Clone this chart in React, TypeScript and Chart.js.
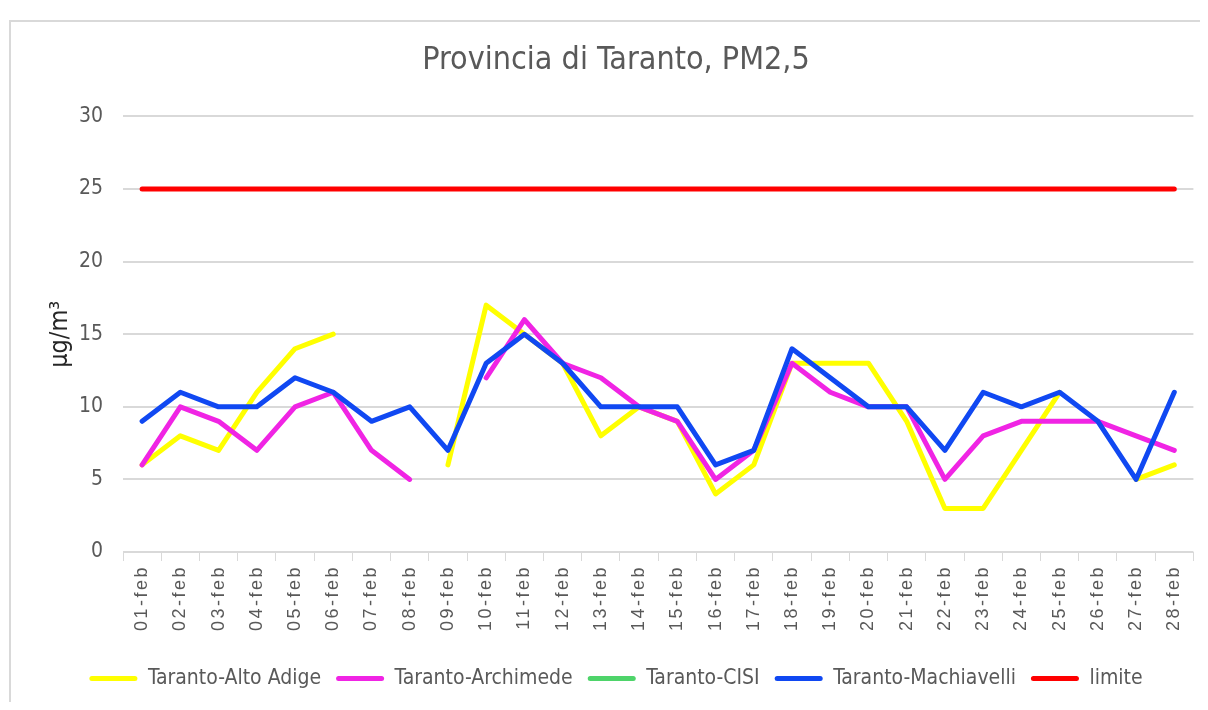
import React, { useEffect, useRef } from "react";
import { Chart, registerables } from "chart.js";

Chart.register(...registerables);

const categories = [
  "01-feb", "02-feb", "03-feb", "04-feb", "05-feb", "06-feb", "07-feb",
  "08-feb", "09-feb", "10-feb", "11-feb", "12-feb", "13-feb", "14-feb",
  "15-feb", "16-feb", "17-feb", "18-feb", "19-feb", "20-feb", "21-feb",
  "22-feb", "23-feb", "24-feb", "25-feb", "26-feb", "27-feb", "28-feb",
];

const altoAdige = [6, 8, 7, 11, 14, 15, null, null, 6, 17, 15, 13, 8, 10, 9, 4, 6, 13, 13, 13, 9, 3, 3, 7, 11, null, 5, 6];
const archimede = [6, 10, 9, 7, 10, 11, 7, 5, null, 12, 16, 13, 12, 10, 9, 5, 7, 13, 11, 10, 10, 5, 8, 9, 9, 9, 8, 7];
const cisi = [null, null, null, null, null, null, null, null, null, null, null, null, null, null,
  null, null, null, null, null, null, null, null, null, null, null, null, null, null];
const machiavelli = [9, 11, 10, 10, 12, 11, 9, 10, 7, 13, 15, 13, 10, 10, 10, 6, 7, 14, 12, 10, 10, 7, 11, 10, 11, 9, 5, 11];
const limite = [25, 25, 25, 25, 25, 25, 25, 25, 25, 25, 25, 25, 25, 25, 25, 25, 25, 25, 25, 25, 25, 25, 25, 25, 25, 25, 25, 25];

const seriesNames = ["Taranto-Alto Adige", "Taranto-Archimede", "Taranto-CISI", "Taranto-Machiavelli", "limite"];
const seriesColors = ["#FFFF00", "#F024E4", "#4ED46A", "#1048F2", "#FF0000"];

const titleText = "Provincia di Taranto, PM2,5";
const yTitle = "µg/m³";

const NARROW = "'Liberation Sans Narrow', 'DejaVu Sans Condensed', 'Liberation Sans', sans-serif";

const letterSpacingPlugin = {
  id: "xLabelSpacing",
  beforeDraw(chart: any) {
    chart.ctx.letterSpacing = "0px";
  },
  afterDatasetsDraw(chart: any) {
    chart.ctx.letterSpacing = "2.5px";
  },
  afterDraw(chart: any) {
    chart.ctx.letterSpacing = "0px";
  },
};

const framePlugin = {
  id: "frame",
  beforeDraw(chart: any) {
    const ctx = chart.ctx;
    ctx.save();
    ctx.strokeStyle = "#d9d9d9";
    ctx.lineWidth = 2;
    ctx.beginPath();
    ctx.moveTo(chart.width, 13);
    ctx.lineTo(2, 13);
    ctx.lineTo(2, chart.height);
    ctx.stroke();
    ctx.restore();
  },
};

export default function App() {
  const ref = useRef<HTMLCanvasElement | null>(null);

  useEffect(() => {
    if (!ref.current) return;
    const allData = [altoAdige, archimede, cisi, machiavelli, limite];
    const orders = [5, 4, 3, 2, 1];
    const chart = new Chart(ref.current, {
      type: "line",
      data: {
        labels: categories,
        datasets: allData.map((d, i) => ({
          label: seriesNames[i],
          data: d,
          borderColor: seriesColors[i],
          backgroundColor: seriesColors[i],
          borderWidth: 5,
          pointRadius: 0,
          pointHoverRadius: 0,
          tension: 0,
          spanGaps: false,
          borderCapStyle: "round",
          borderJoinStyle: "round",
          order: orders[i],
        })),
      },
      options: {
        responsive: false,
        animation: false,
        events: [],
        layout: { padding: { left: 30, right: 6, top: 0, bottom: 3 } },
        plugins: {
          tooltip: { enabled: false },
          title: {
            display: true,
            text: titleText,
            color: "#595959",
            font: { family: NARROW, size: 32, weight: "normal" },
            padding: { top: 33, bottom: 37 },
          },
          legend: {
            position: "bottom",
            labels: {
              boxWidth: 48,
              boxHeight: 5,
              padding: 15,
              color: "#595959",
              font: { family: NARROW, size: 21 },
              useBorderRadius: true,
              borderRadius: 2.5,
              sort: (a: any, b: any) => a.datasetIndex - b.datasetIndex,
              generateLabels: (c: any) => {
                const items = (Chart.defaults.plugins.legend.labels as any).generateLabels(c);
                return items.map((it: any) => ({
                  ...it,
                  lineWidth: 0,
                  fillStyle: seriesColors[it.datasetIndex],
                  strokeStyle: seriesColors[it.datasetIndex],
                  borderRadius: 2.5,
                }));
              },
            },
          },
        },
        scales: {
          x: {
            offset: true,
            grid: {
              offset: true,
              drawOnChartArea: false,
              drawTicks: true,
              tickLength: 9,
              color: "#d9d9d9",
              lineWidth: 1,
            },
            border: { display: false },
            ticks: {
              minRotation: 90,
              maxRotation: 90,
              autoSkip: false,
              color: "#595959",
              font: { family: "'Liberation Sans', Arial, sans-serif", size: 18 },
              padding: 4,
              z: 1,
            },
            afterFit: (s: any) => {
              s.height = 101;
            },
          },
          y: {
            min: 0,
            max: 30,
            ticks: {
              stepSize: 5,
              color: "#595959",
              font: { family: NARROW, size: 21 },
              padding: 20,
            },
            grid: { color: "#d9d9d9", lineWidth: 2, drawTicks: false },
            border: { display: false },
            title: {
              display: true,
              text: yTitle,
              color: "#262626",
              font: { family: NARROW, size: 25 },
              padding: { top: 7, bottom: 0 },
            },
            afterFit: (s: any) => {
              s.width = 85;
            },
          },
        },
      },
      plugins: [letterSpacingPlugin, framePlugin],
    } as any);
    return () => chart.destroy();
  }, []);

  return (
    <div style={{ width: 1192, height: 694 }}>
      <canvas ref={ref} width={1192} height={694} style={{ display: "block" }} />
    </div>
  );
}
